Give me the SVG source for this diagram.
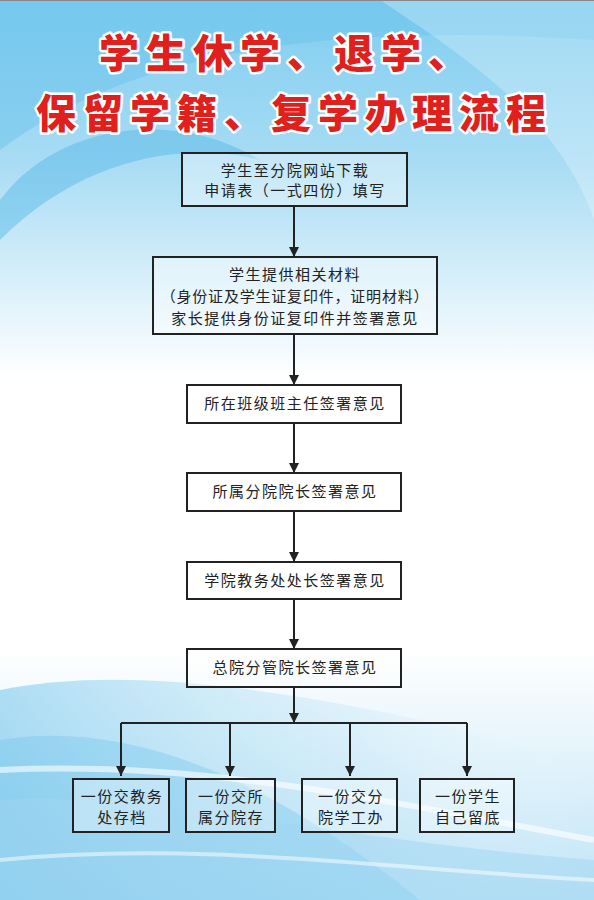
<svg xmlns="http://www.w3.org/2000/svg" width="594" height="900" viewBox="0 0 594 900">
<defs>
<linearGradient id="bg" x1="0" y1="0" x2="0" y2="1">
<stop offset="0" stop-color="#7fcdf0"/>
<stop offset="0.18" stop-color="#a8dcf4"/>
<stop offset="0.42" stop-color="#ffffff"/>
<stop offset="0.72" stop-color="#ffffff"/>
<stop offset="1" stop-color="#bfe4f6"/>
</linearGradient>
<linearGradient id="sw" x1="0" y1="0" x2="1" y2="0">
<stop offset="0" stop-color="#5fbde9" stop-opacity="0.8"/>
<stop offset="0.6" stop-color="#a5dbf3" stop-opacity="0.4"/>
<stop offset="1" stop-color="#ffffff" stop-opacity="0"/>
</linearGradient>
<marker id="ah" viewBox="0 0 10 10" refX="10" refY="5" markerWidth="10" markerHeight="10" markerUnits="userSpaceOnUse" orient="auto">
<path d="M0,0 L10,5 L0,10 Z" fill="#222"/>
</marker>
</defs>
<style>
.box{fill:#ffffff;fill-opacity:0.35;stroke:#222;stroke-width:2}
.t{font-family:"Noto Sans CJK SC","Noto Sans",sans-serif;font-size:15px;fill:#222;text-anchor:middle;letter-spacing:1.5px}
.title{font-family:"Noto Sans CJK SC",sans-serif;font-size:40px;font-weight:900;fill:#e0201c;stroke:#ffffff;stroke-width:5;paint-order:stroke;stroke-linejoin:round;letter-spacing:7px}
.c{stroke:#222;stroke-width:2;fill:none}
</style>
<rect width="594" height="900" fill="url(#bg)"/>
<path d="M0,150 C120,60 300,20 594,40 L594,0 L0,0 Z" fill="#6cc4ec" opacity="0.5"/>
<path d="M0,200 C60,120 180,110 260,160 C180,140 80,160 0,240 Z" fill="#4fb6e6" opacity="0.45"/>
<path d="M380,0 C470,60 560,120 594,220 L594,0 Z" fill="#ffffff" opacity="0.25"/>
<path d="M0,690 C150,660 350,700 594,760 L594,900 L0,900 Z" fill="url(#sw)" opacity="0.6"/>
<path d="M0,740 C120,720 260,770 420,900 L0,900 Z" fill="#6cc4ec" opacity="0.35"/>
<path d="M0,800 C150,790 330,840 594,860 L594,900 L0,900 Z" fill="#9fd6f1" opacity="0.5"/>
<path d="M0,770 C200,760 380,800 594,840" stroke="#ffffff" stroke-width="6" fill="none" opacity="0.6"/>
<path d="M0,860 C200,840 400,870 594,880" stroke="#ffffff" stroke-width="4" fill="none" opacity="0.5"/>
<line x1="0" y1="0.5" x2="594" y2="0.5" stroke="#888" stroke-width="1"/>

<g id="title">
<text class="title" x="99" y="68">学生休学、退学、</text>
<text class="title" x="36" y="128">保留学籍、复学办理流程</text>
</g>

<g id="connectors">
<line class="c" x1="294" y1="206" x2="294" y2="257" marker-end="url(#ah)"/>
<line class="c" x1="294" y1="334" x2="294" y2="385" marker-end="url(#ah)"/>
<line class="c" x1="294" y1="423" x2="294" y2="473" marker-end="url(#ah)"/>
<line class="c" x1="294" y1="511" x2="294" y2="562" marker-end="url(#ah)"/>
<line class="c" x1="294" y1="599" x2="294" y2="649" marker-end="url(#ah)"/>
<line class="c" x1="294" y1="687" x2="294" y2="723" marker-end="url(#ah)"/>
<line class="c" x1="121" y1="723" x2="467" y2="723"/>
<line class="c" x1="121" y1="723" x2="121" y2="776" marker-end="url(#ah)"/>
<line class="c" x1="230" y1="723" x2="230" y2="776" marker-end="url(#ah)"/>
<line class="c" x1="350" y1="723" x2="350" y2="776" marker-end="url(#ah)"/>
<line class="c" x1="467" y1="723" x2="467" y2="776" marker-end="url(#ah)"/>
</g>

<g id="n1"><rect class="box" x="182" y="153" width="225" height="53"/>
<text class="t" x="295" y="176">学生至分院网站下载</text>
<text class="t" x="295" y="196">申请表（一式四份）填写</text></g>

<g id="n2"><rect class="box" x="153" y="257" width="284" height="77"/>
<text class="t" x="295" y="280">学生提供相关材料</text>
<text class="t" x="295" y="302" style="letter-spacing:0.8px">（身份证及学生证复印件，证明材料）</text>
<text class="t" x="295" y="324">家长提供身份证复印件并签署意见</text></g>

<g id="n3"><rect class="box" x="187" y="385" width="214" height="38"/>
<text class="t" x="295" y="409">所在班级班主任签署意见</text></g>

<g id="n4"><rect class="box" x="187" y="473" width="214" height="38"/>
<text class="t" x="295" y="497">所属分院院长签署意见</text></g>

<g id="n5"><rect class="box" x="187" y="562" width="214" height="37"/>
<text class="t" x="295" y="586">学院教务处处长签署意见</text></g>

<g id="n6"><rect class="box" x="187" y="649" width="214" height="38"/>
<text class="t" x="295" y="673">总院分管院长签署意见</text></g>

<g id="n7"><rect class="box" x="73" y="779" width="96" height="53"/>
<text class="t" x="122" y="802">一份交教务</text>
<text class="t" x="122" y="823">处存档</text></g>

<g id="n8"><rect class="box" x="186" y="779" width="89" height="53"/>
<text class="t" x="231" y="802">一份交所</text>
<text class="t" x="231" y="823">属分院存</text></g>

<g id="n9"><rect class="box" x="302" y="779" width="95" height="53"/>
<text class="t" x="351" y="802">一份交分</text>
<text class="t" x="351" y="823">院学工办</text></g>

<g id="n10"><rect class="box" x="420" y="779" width="94" height="53"/>
<text class="t" x="468" y="802">一份学生</text>
<text class="t" x="468" y="823">自己留底</text></g>
</svg>
